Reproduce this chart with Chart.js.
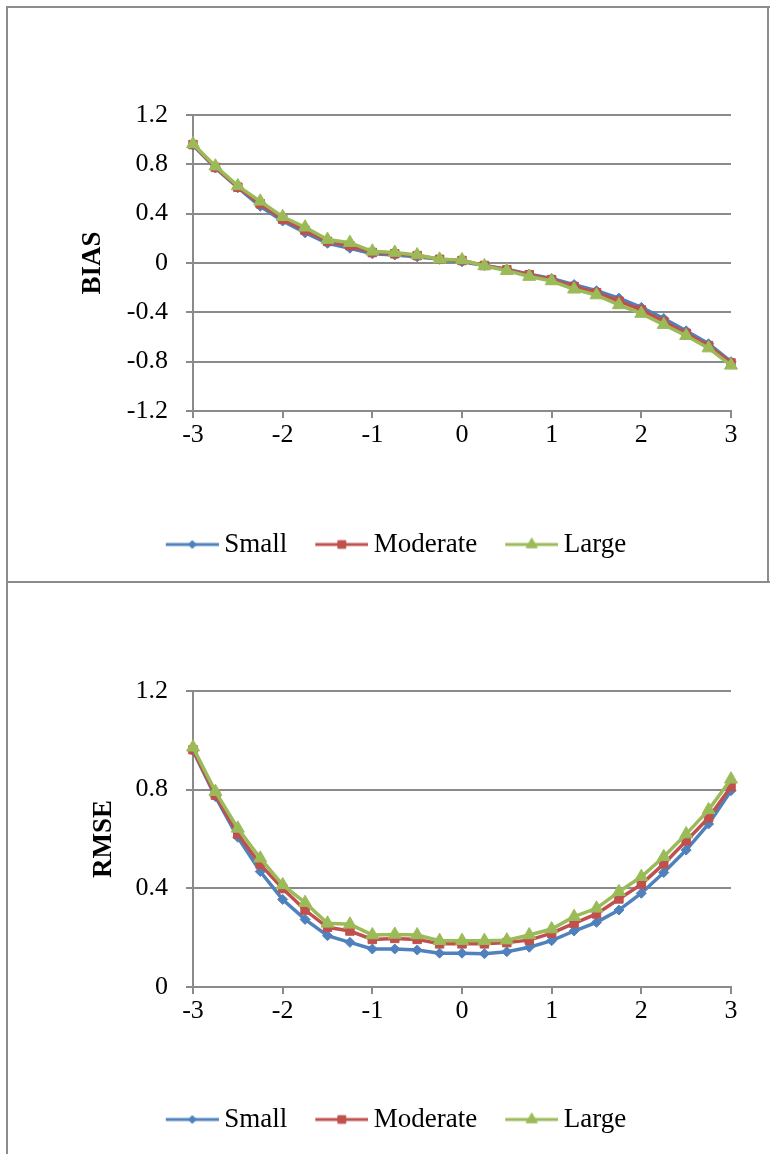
<!DOCTYPE html>
<html>
<head>
<meta charset="utf-8">
<script src="https://cdn.jsdelivr.net/npm/chart.js@4.4.1/dist/chart.umd.min.js"></script>
<style>
  html, body { margin: 0; padding: 0; background: #fff; }
  body { width: 770px; height: 1154px; position: relative; overflow: hidden; }
  .frame { position: absolute; background: #8c8c8c; }
  .box { position: absolute; }
</style>
</head>
<body>
<div class="frame" style="left:6px;top:6px;width:764px;height:2px;"></div>
<div class="frame" style="left:6px;top:6px;width:2px;height:1148px;"></div>
<div class="frame" style="left:6px;top:581px;width:764px;height:2px;"></div>
<div class="frame" style="left:767px;top:6px;width:2px;height:576px;"></div>
<div class="box" style="left:9px;top:9px;width:758px;height:572px;"><canvas id="biasChart"></canvas></div>
<div class="box" style="left:9px;top:584px;width:758px;height:570px;"><canvas id="rmseChart"></canvas></div>
<script>
// ---- data ----
const thetaPoints = [-3, -2.75, -2.5, -2.25, -2, -1.75, -1.5, -1.25, -1, -0.75, -0.5, -0.25, 0,
                     0.25, 0.5, 0.75, 1, 1.25, 1.5, 1.75, 2, 2.25, 2.5, 2.75, 3];
const seriesNames = ['Small', 'Moderate', 'Large'];

const biasSmall    = [0.955, 0.77, 0.61, 0.46, 0.34, 0.245, 0.16, 0.12, 0.075, 0.065, 0.05, 0.03, 0.01,
                      -0.02, -0.05, -0.09, -0.125, -0.175, -0.225, -0.285, -0.36, -0.45, -0.55, -0.655, -0.80];
const biasModerate = [0.96, 0.775, 0.615, 0.48, 0.355, 0.265, 0.175, 0.14, 0.085, 0.075, 0.06, 0.03, 0.02,
                      -0.02, -0.055, -0.095, -0.135, -0.19, -0.24, -0.31, -0.38, -0.475, -0.57, -0.67, -0.81];
const biasLarge    = [0.965, 0.785, 0.625, 0.5, 0.375, 0.29, 0.19, 0.165, 0.095, 0.085, 0.065, 0.03, 0.025,
                      -0.024, -0.062, -0.11, -0.146, -0.213, -0.26, -0.34, -0.41, -0.50, -0.59, -0.69, -0.83];

const rmseSmall    = [0.958, 0.772, 0.607, 0.468, 0.355, 0.274, 0.208, 0.181, 0.154, 0.154, 0.15, 0.137, 0.137,
                      0.135, 0.143, 0.161, 0.188, 0.227, 0.262, 0.312, 0.38, 0.464, 0.555, 0.661, 0.796];
const rmseModerate = [0.962, 0.778, 0.62, 0.497, 0.399, 0.312, 0.242, 0.227, 0.193, 0.197, 0.193, 0.175, 0.175,
                      0.175, 0.18, 0.19, 0.218, 0.258, 0.296, 0.357, 0.416, 0.499, 0.592, 0.686, 0.812];
const rmseLarge    = [0.972, 0.792, 0.643, 0.522, 0.414, 0.342, 0.258, 0.254, 0.211, 0.213, 0.211, 0.188, 0.188,
                      0.188, 0.19, 0.211, 0.235, 0.285, 0.319, 0.386, 0.447, 0.528, 0.62, 0.718, 0.842];

const xTicks = [-3, -2, -1, 0, 1, 2, 3];
const biasTicks = [-1.2, -0.8, -0.4, 0, 0.4, 0.8, 1.2];
const rmseTicks = [0, 0.4, 0.8, 1.2];

// ---- styles ----
const colors = ['#4F81BD', '#C0504D', '#9BBB59'];
const pointStyles = ['rectRot', 'rect', 'triangle'];
const pointRadii = [5, 6, 7.5];
const gridColor = '#8a8a8a';
const fontFamily = "'Liberation Serif', 'Times New Roman', serif";

function makeLegendIcon(i) {
  const c = document.createElement('canvas');
  c.width = 56; c.height = 18;
  const ctx = c.getContext('2d');
  ctx.strokeStyle = colors[i];
  ctx.lineWidth = 3;
  ctx.beginPath(); ctx.moveTo(3, 9); ctx.lineTo(56, 9); ctx.stroke();
  ctx.fillStyle = colors[i];
  ctx.strokeStyle = colors[i];
  ctx.lineWidth = 1;
  const r = [4, 5.5, 6.5][i];
  if (Chart.helpers && Chart.helpers.drawPoint) {
    Chart.helpers.drawPoint(ctx, {pointStyle: pointStyles[i], radius: r, rotation: 0, borderWidth: 1}, 29.5, 9);
  }
  return c;
}
const legendIcons = [0, 1, 2].map(makeLegendIcon);

function buildDatasets(arrays) {
  return arrays.map((arr, i) => ({
    label: seriesNames[i],
    data: thetaPoints.map((t, k) => ({x: t, y: arr[k]})),
    borderColor: colors[i],
    backgroundColor: colors[i],
    borderWidth: 3.5,
    pointStyle: pointStyles[i],
    pointRadius: pointRadii[i],
    pointBorderWidth: 1,
    pointBorderColor: colors[i],
    pointBackgroundColor: colors[i],
    tension: 0,
    clip: false,
    order: 3 - i
  }));
}

function makeChart(id, arrays, yTicks, title, topPad, bottomPad, xAxisHeight, titlePad) {
  const yMin = yTicks[0], yMax = yTicks[yTicks.length - 1];
  return new Chart(document.getElementById(id), {
    type: 'line',
    data: { datasets: buildDatasets(arrays) },
    options: {
      responsive: true,
      maintainAspectRatio: false,
      animation: false,
      layout: { padding: { top: topPad, bottom: bottomPad, left: 57, right: 36 } },
      plugins: {
        tooltip: { enabled: false },
        legend: {
          position: 'bottom',
          labels: {
            usePointStyle: true,
            pointStyleWidth: 40,
            padding: 33,
            color: '#000',
            font: { family: fontFamily, size: 27 },
            sort: (a, b) => a.datasetIndex - b.datasetIndex,
            generateLabels: (chart) => Chart.defaults.plugins.legend.labels.generateLabels(chart)
              .map(l => Object.assign(l, { pointStyle: legendIcons[l.datasetIndex] }))
          }
        }
      },
      scales: {
        x: {
          type: 'linear',
          min: -3, max: 3,
          afterBuildTicks: s => { s.ticks = xTicks.map(v => ({value: v})); },
          afterFit: s => { s.height = xAxisHeight; },
          grid: { display: true, drawOnChartArea: false, drawTicks: true, tickLength: 7, color: gridColor, lineWidth: 2 },
          border: { display: true, color: gridColor, width: 2 },
          ticks: {
            autoSkip: false, maxRotation: 0, padding: 2, color: '#000',
            font: { family: fontFamily, size: 26 },
            callback: v => String(v)
          }
        },
        y: {
          type: 'linear',
          min: yMin, max: yMax,
          afterBuildTicks: s => { s.ticks = yTicks.map(v => ({value: v})); },
          afterFit: s => { s.width = 127; },
          grid: { display: true, drawOnChartArea: true, drawTicks: true, tickLength: 7, color: gridColor, lineWidth: 2 },
          border: { display: true, color: gridColor, width: 2 },
          ticks: {
            padding: 18, color: '#000',
            font: { family: fontFamily, size: 26 },
            callback: v => String(Math.round(v * 10) / 10)
          },
          title: {
            display: true, text: title, color: '#000',
            font: { family: fontFamily, size: 27, weight: 'bold' },
            padding: { top: titlePad, bottom: 0 }
          }
        }
      }
    }
  });
}

makeChart('biasChart', [biasSmall, biasModerate, biasLarge], biasTicks, 'BIAS', 106, 13, 87, 11);
makeChart('rmseChart', [rmseSmall, rmseModerate, rmseLarge], rmseTicks, 'RMSE', 107, 11, 86, 22);
</script>
</body>
</html>
